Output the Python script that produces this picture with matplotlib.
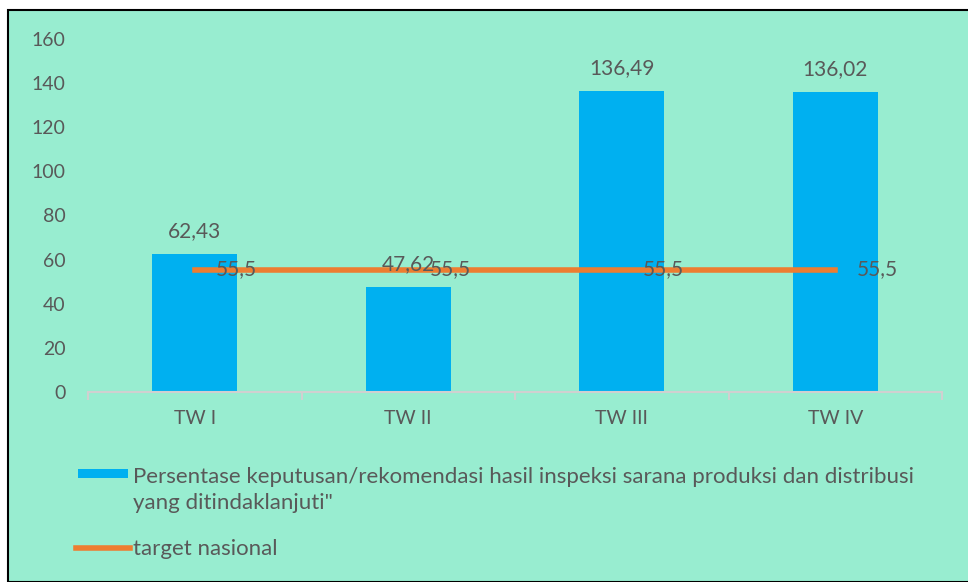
import matplotlib.pyplot as plt
from matplotlib.patches import Rectangle
from matplotlib.lines import Line2D

# data
kategori = ['TW I', 'TW II', 'TW III', 'TW IV']
persentase = [62.43, 47.62, 136.49, 136.02]
target = [55.5, 55.5, 55.5, 55.5]

label_bar = ('Persentase keputusan/rekomendasi hasil inspeksi sarana produksi dan distribusi\n'
             'yang ditindaklanjuti"')
label_line = 'target nasional'

bg = '#98EDD0'
teks = '#595959'
biru = '#00B0F0'
oranye = '#ED7D31'

plt.rcParams['font.family'] = ['Lato', 'DejaVu Sans']

W, H = 968, 582
fig = plt.figure(figsize=(W / 100, H / 100), dpi=100)
fig.patch.set_facecolor('white')

def fx(px):
    return px / W

def fy(py):
    return 1 - py / H

# chart area with black border
fig.patches.append(Rectangle((fx(8), 0), 1, fy(10), transform=fig.transFigure,
                             facecolor=bg, edgecolor='black', linewidth=1.5, zorder=-5))

ax = fig.add_axes([fx(88), fy(392), fx(942) - fx(88), fy(39) - fy(392)])
ax.set_facecolor('none')

x = range(len(kategori))
ax.bar(x, persentase, width=0.4, color=biru, zorder=2)
ax.plot(x, target, color=oranye, linewidth=4, zorder=3)

for i, v in enumerate(persentase):
    ax.text(i, v + 6, f'{v:.2f}'.replace('.', ','), ha='center', va='bottom',
            fontsize=15, color=teks, zorder=4)
for i, v in enumerate(target):
    ax.text(i + 0.1, v, f'{v}'.replace('.', ','), ha='left', va='center',
            fontsize=15, color=teks, zorder=4)

ax.set_xlim(-0.5, 3.5)
ax.set_ylim(0, 160)
ax.set_yticks(range(0, 161, 20))
ax.set_xticks(list(x))
ax.set_xticklabels(kategori)
ax.set_xticks([-0.5, 0.5, 1.5, 2.5, 3.5], minor=True)
ax.tick_params(axis='x', which='major', length=0, pad=13, labelsize=14, colors=teks)
ax.tick_params(axis='x', which='minor', length=6, width=1.5, color='#D0D0D0')
ax.tick_params(axis='y', length=0, pad=16, labelsize=14, colors=teks)
for s in ['top', 'right', 'left']:
    ax.spines[s].set_visible(False)
ax.spines['bottom'].set_color('#D0D0D0')
ax.spines['bottom'].set_linewidth(1.5)

# legend drawn below the plot
fig.patches.append(Rectangle((fx(78), fy(478)), fx(128) - fx(78), fy(469) - fy(478),
                             transform=fig.transFigure, facecolor=biru, edgecolor='none'))
fig.text(fx(133), fy(490), label_bar, ha='left', va='center', fontsize=16,
         color=teks, linespacing=1.35)
fig.lines.append(Line2D([fx(76), fx(130)], [fy(548), fy(548)], transform=fig.transFigure,
                        color=oranye, linewidth=4))
fig.text(fx(133), fy(549), label_line, ha='left', va='center', fontsize=16, color=teks)

fig.savefig('out.png', dpi=100, facecolor='white')
